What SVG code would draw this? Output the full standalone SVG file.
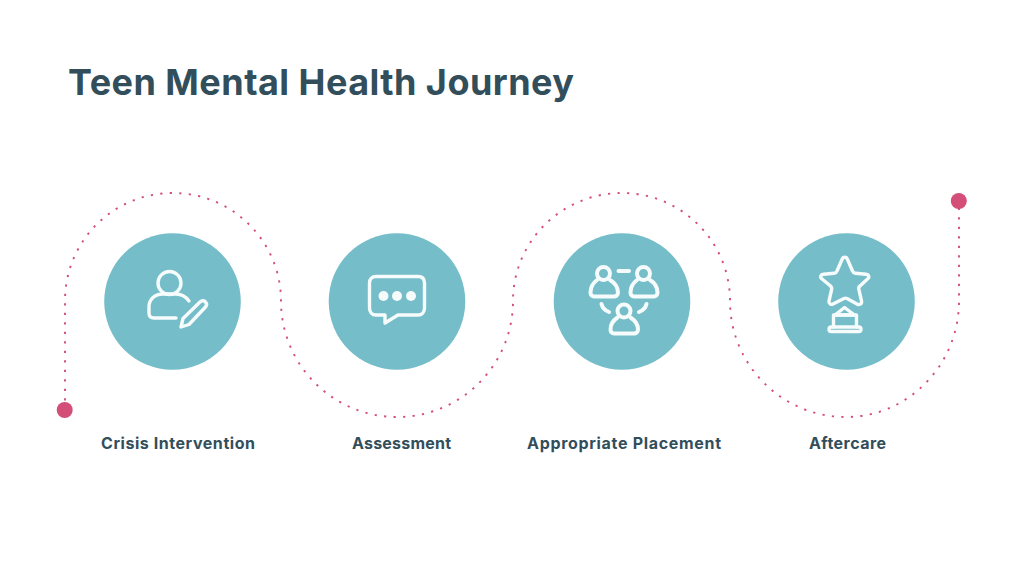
<svg xmlns="http://www.w3.org/2000/svg" width="1024" height="577" viewBox="0 0 1024 577">
<style>
.c{fill:#74bdc9}
.i{fill:none;stroke:#f6fbfc;stroke-width:3.4;stroke-linecap:round;stroke-linejoin:round}
.d{fill:#f6fbfc}
.t{font-family:"Inter","Liberation Sans",sans-serif;fill:#324e5b}
.l{font-size:16px;font-weight:700}
.e{fill:#d34e79}
</style>
<rect width="1024" height="577" fill="#ffffff"/>
<text class="t" x="68" y="95" font-size="36" font-weight="700" textLength="506" lengthAdjust="spacing">Teen Mental Health Journey</text>
<g id="connectors">
<path d="M65 410V301C65 241 113 193 173 193C232 193 281 241 281 301C281 365 333 417 397 417C461 417 513 365 513 301C513 241 562 193 622 193C681 193 730 241 730 301C730 365 782 417 846 417C908 417 959 365 959 301V201" fill="none" stroke="#d34e79" stroke-width="1.900" stroke-dasharray="2.200 7.300"/>
<circle class="e" cx="64.700" cy="410" r="8"/>
<circle class="e" cx="958.800" cy="201" r="8"/>
</g>
<g id="node-crisis">
<circle class="c" cx="172.500" cy="301.500" r="68.300"/>
<circle class="i" cx="169.500" cy="283" r="11.500"/>
<path class="i" d="M176 318H154C150.500 318 149 316.500 149 313V307C149 299 155 294 163 294H176C181 294 186 297 189 301"/>
<path class="i" d="M181 327L183 318.500L200 302C202 300 204.500 300.500 205.500 302C207 303.500 207 305.500 205 307.500L189 324.500Z"/>
<text class="t l" x="101" y="449" textLength="154" lengthAdjust="spacing">Crisis Intervention</text>
</g>
<g id="node-assessment">
<circle class="c" cx="397" cy="301.500" r="68.300"/>
<path class="i" d="M376 276.500H418C422.500 276.500 424.500 279 424.500 283V308C424.500 312 422 315 418 315H398L385 323V315H376C372 315 369.500 312 369.500 308V283C369.500 279 372 276.500 376 276.500Z"/>
<circle class="d" cx="383.500" cy="296" r="5"/>
<circle class="d" cx="397" cy="296" r="5"/>
<circle class="d" cx="411" cy="296" r="5"/>
<text class="t l" x="352" y="449" textLength="99" lengthAdjust="spacing">Assessment</text>
</g>
<g id="node-placement">
<circle class="c" cx="622" cy="301.500" r="68.300"/>
<g class="i" style="stroke-width:4">
<circle cx="603.500" cy="273.500" r="6.500"/>
<path d="M597 280C593 283 590.500 288 590.500 292.500C590.500 295 592 296.500 594 296.500H614C616 296.500 618 295 618 292.500C618 288 615 283 610 280"/>
<circle cx="643.500" cy="273.500" r="6.500"/>
<path d="M637 280C633 283 630.500 288 630.500 292.500C630.500 295 632 296.500 634 296.500H654C656 296.500 657.500 295 657.500 292.500C657.500 288 655 283 650 280"/>
<circle cx="624" cy="311" r="6.500"/>
<path d="M617.500 317.500C613 320.500 610.500 325 610.500 329.500C610.500 332 612 333.500 614 333.500H634C636 333.500 638 332 638 329.500C638 325 635 320.500 630.500 317.500"/>
<path d="M618.500 271H629"/>
<path d="M601.500 304C602.500 308 605 310.500 609 312"/>
<path d="M646.500 304C645.500 308 643 310.500 639 312"/>
</g>
<text class="t l" x="527" y="449" textLength="194" lengthAdjust="spacing">Appropriate Placement</text>
</g>
<g id="node-aftercare">
<circle class="c" cx="846.500" cy="301.500" r="68.300"/>
<path class="i" d="M842 259.500C843 256.500 846.500 256.500 847.500 259.500L852.500 271C853 272.500 854.500 273 855.500 273.300L866 274.300C869 274.600 869.500 277 868 278.500L860 286C858.500 287 858.500 288.500 859 290L861.500 301C862 304 859.500 305.500 857 304L847 298.500C846 298 845 298 844 298.500L833 304C831 305 828.500 303.500 829 301L831.500 290C832 288.500 831.500 287 830.500 286L821.500 278.500C820 277 820.500 274.600 823.500 274.300L834 273.300C835.500 273 836.500 272.500 837 271Z"/>
<path class="i" d="M835 315L844.500 307.500L854.500 315Z"/>
<path class="i" d="M833.500 315H856.500V327M833.500 315V327"/>
<rect class="i" x="829" y="327" width="32" height="4.500" rx="2.250"/>
<text class="t l" x="809" y="449" textLength="77" lengthAdjust="spacing">Aftercare</text>
</g>
</svg>
